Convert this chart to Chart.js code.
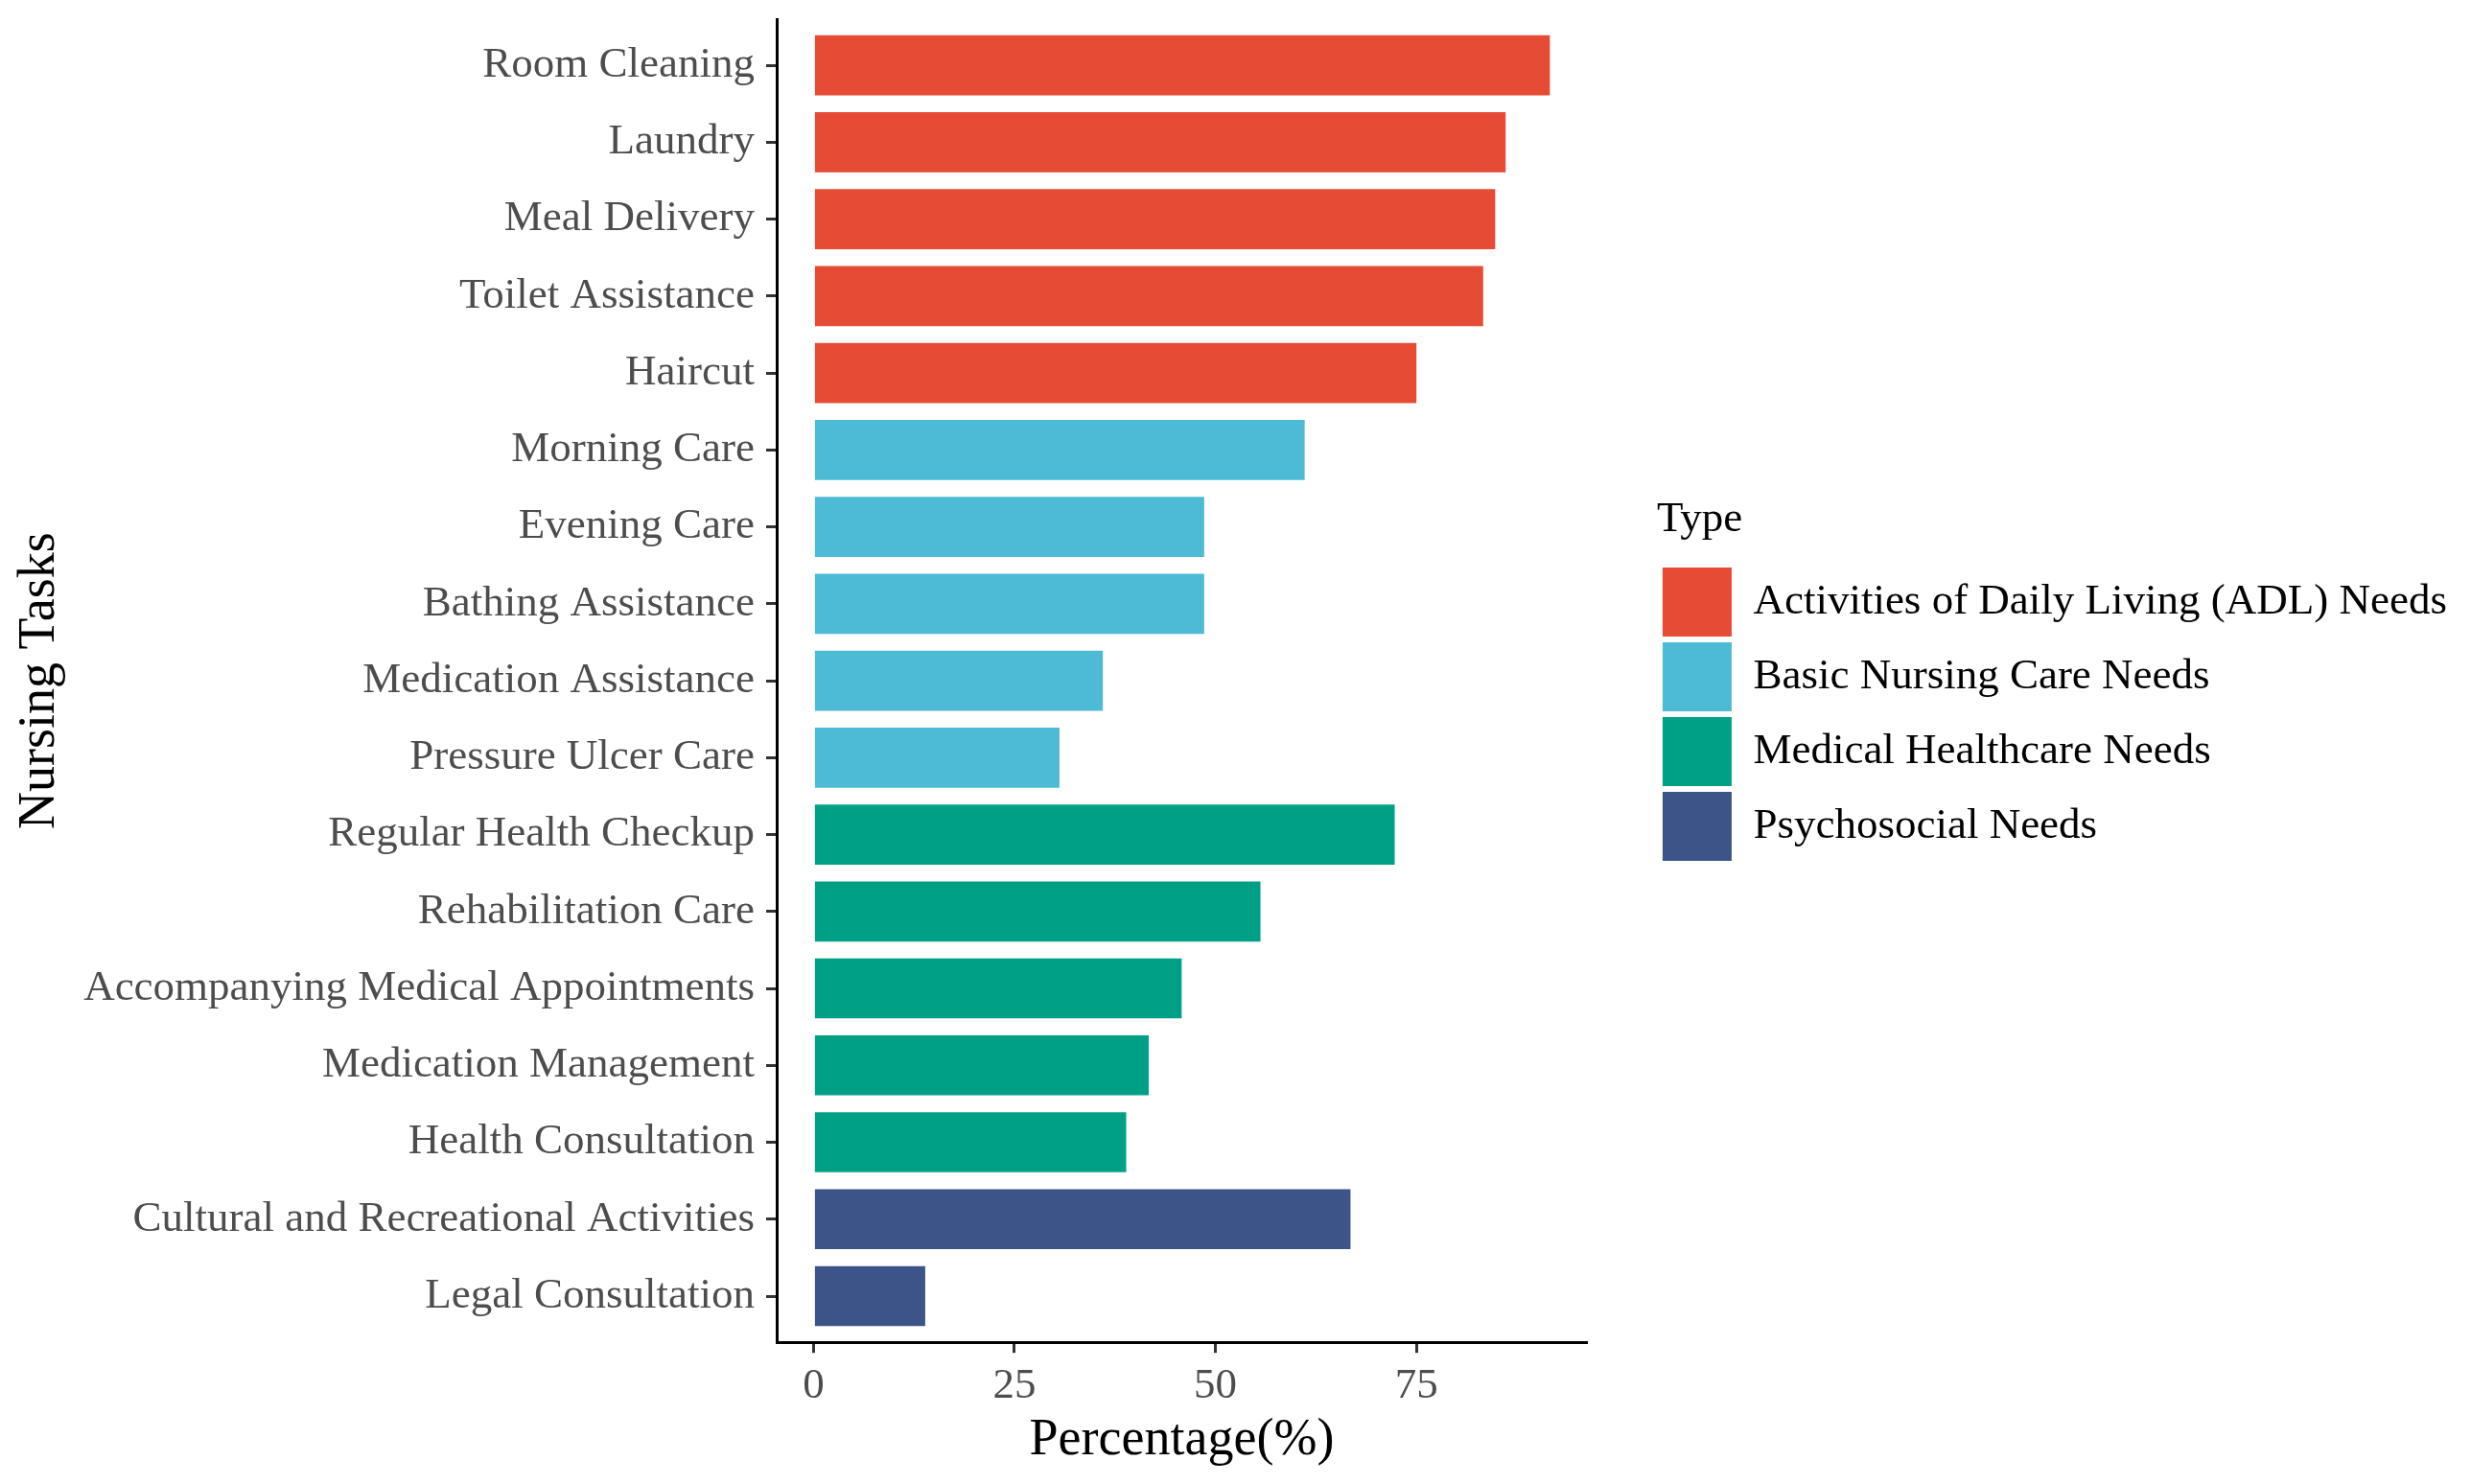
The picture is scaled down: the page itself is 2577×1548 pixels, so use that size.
<!DOCTYPE html>
<html>
<head>
<meta charset="utf-8">
<script src="https://cdn.jsdelivr.net/npm/chart.js@4.4.1/dist/chart.umd.min.js"></script>
<style>
  html, body { margin: 0; padding: 0; background: #fff; }
  #wrap { width: 2577px; height: 1548px; }
</style>
</head>
<body>
<div id="wrap"><canvas id="plot"></canvas></div>
<script>
const tasks = [
  'Room Cleaning', 'Laundry', 'Meal Delivery', 'Toilet Assistance', 'Haircut',
  'Morning Care', 'Evening Care', 'Bathing Assistance', 'Medication Assistance', 'Pressure Ulcer Care',
  'Regular Health Checkup', 'Rehabilitation Care', 'Accompanying Medical Appointments',
  'Medication Management', 'Health Consultation',
  'Cultural and Recreational Activities', 'Legal Consultation'
];
const percentages = [91.6, 86.1, 84.8, 83.3, 75.0, 61.1, 48.6, 48.6, 36.0, 30.6, 72.3, 55.6, 45.8, 41.7, 38.9, 66.8, 13.9];
const taskType = [0, 0, 0, 0, 0, 1, 1, 1, 1, 1, 2, 2, 2, 2, 2, 3, 3];
const typeNames = [
  'Activities of Daily Living (ADL) Needs',
  'Basic Nursing Care Needs',
  'Medical Healthcare Needs',
  'Psychosocial Needs'
];
const typeColors = ['#E64B35', '#4DBBD5', '#00A087', '#3C5488'];
const xTicks = [0, 25, 50, 75];

const serif = '"Liberation Serif", "Times New Roman", serif';

// one dataset per type so the legend gets its four keys
const datasets = typeNames.map((name, t) => ({
  label: name,
  data: tasks.map((task, i) => ({ x: percentages[i], y: i })).filter(p => taskType[p.y] === t),
  backgroundColor: typeColors[t],
  borderWidth: 0,
  grouped: false,
  barPercentage: 0.78,
  categoryPercentage: 1
}));

let el, ctx, chart;
let config = {
  type: 'bar',
  data: { datasets: datasets },
  options: {
    indexAxis: 'y',
    responsive: true,
    maintainAspectRatio: false,
    animation: false,
    layout: { padding: { top: 20, right: 15, bottom: 13, left: 0 } },
    scales: {
      x: {
        type: 'linear',
        position: 'bottom',
        min: -4.58,
        max: 96.2,
        afterBuildTicks: (scale) => { scale.ticks = xTicks.map(v => ({ value: v })); },
        grid: { display: true, drawOnChartArea: false, drawTicks: true, tickLength: 11, color: '#333333', lineWidth: 3 },
        border: { display: true, color: '#000000', width: 3 },
        ticks: { color: '#4D4D4D', font: { family: serif, size: 45 }, padding: 8 },
        title: { display: true, text: 'Percentage(%)', color: '#000000', font: { family: serif, size: 54 }, padding: { top: -11, bottom: 0 } }
      },
      y: {
        type: 'linear',
        position: 'left',
        reverse: true,
        offset: false,
        min: -0.6,
        max: 16.6,
        afterBuildTicks: (scale) => { scale.ticks = tasks.map((t, i) => ({ value: i })); },
        afterFit: (scale) => {
          scale.width = 810;
          scale.paddingTop = 0;
          scale.paddingBottom = 0;
        },
        grid: { display: true, offset: false, drawOnChartArea: false, drawTicks: true, tickLength: 11, color: '#333333', lineWidth: 3 },
        border: { display: true, color: '#000000', width: 3 },
        ticks: {
          color: '#4D4D4D',
          font: { family: serif, size: 45 },
          padding: 12,
          autoSkip: false,
          callback: (v) => tasks[v]
        },
        title: { display: true, text: 'Nursing Tasks', color: '#000000', font: { family: serif, size: 54 }, padding: { top: 9, bottom: 14 } }
      },
      gap: {
        // empty axis, only keeps the legend away from the panel
        type: 'linear',
        position: 'right',
        grid: { display: false },
        border: { display: false },
        ticks: { display: false },
        afterFit: (scale) => { scale.width = 73; }
      }
    },
    plugins: {
      legend: {
        position: 'right',
        align: 'center',
        fullSize: false,
        maxWidth: 900,
        title: {
          display: true,
          text: 'Type',
          position: 'start',
          color: '#000000',
          font: { family: serif, size: 45 },
          padding: { top: 4, bottom: 12 }
        },
        labels: {
          boxWidth: 72,
          boxHeight: 72,
          padding: 6,
          color: '#000000',
          font: { family: serif, size: 45 }
        }
      },
      tooltip: { enabled: false }
    }
  }
};

document.addEventListener('DOMContentLoaded', () => {
  el = document.getElementById('plot');
  ctx = el.getContext('2d');
  chart = new Chart(ctx, config);
});
</script>
</body>
</html>
